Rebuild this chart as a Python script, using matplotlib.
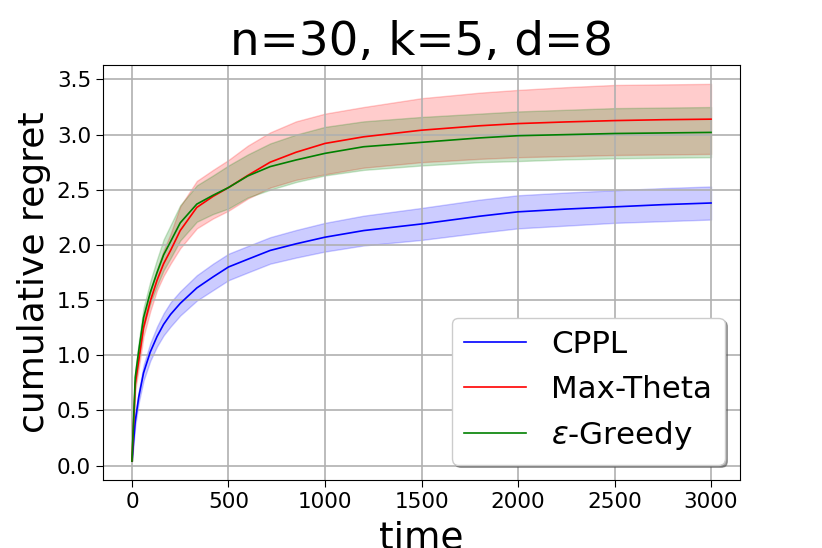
import matplotlib
matplotlib.use("Agg")
import matplotlib.pyplot as plt

steps = [0, 17, 35, 60, 95, 130, 164, 200, 250, 336, 420, 500, 600, 716,
         850, 1000, 1200, 1500, 1800, 2000, 2250, 2500, 2750, 3000]

# CPPL
cppl_mean = [0.04, 0.40, 0.62, 0.84, 1.03, 1.17, 1.28, 1.37, 1.47, 1.61, 1.71, 1.80,
             1.87, 1.95, 2.01, 2.07, 2.13, 2.19, 2.26, 2.30, 2.325, 2.345, 2.365, 2.38]
cppl_upper = [0.04, 0.44, 0.67, 0.91, 1.11, 1.26, 1.38, 1.48, 1.58, 1.725, 1.83, 1.92,
              1.99, 2.07, 2.135, 2.20, 2.265, 2.335, 2.41, 2.45, 2.475, 2.495, 2.515, 2.53]
cppl_lower = [0.04, 0.36, 0.57, 0.77, 0.95, 1.08, 1.18, 1.26, 1.36, 1.495, 1.59, 1.68,
              1.75, 1.83, 1.885, 1.94, 1.995, 2.045, 2.11, 2.15, 2.175, 2.20, 2.215, 2.23]

# Max-Theta
maxt_mean = [0.04, 0.74, 0.95, 1.25, 1.49, 1.68, 1.83, 1.95, 2.13, 2.34, 2.44, 2.52,
             2.63, 2.75, 2.84, 2.92, 2.98, 3.04, 3.08, 3.10, 3.115, 3.127, 3.135, 3.14]
maxt_upper = [0.04, 0.80, 1.02, 1.33, 1.58, 1.78, 1.95, 2.10, 2.35, 2.58, 2.68, 2.77,
              2.90, 3.02, 3.12, 3.19, 3.25, 3.33, 3.38, 3.405, 3.43, 3.45, 3.455, 3.46]
maxt_lower = [0.04, 0.68, 0.88, 1.17, 1.40, 1.59, 1.72, 1.83, 1.97, 2.15, 2.24, 2.31,
              2.42, 2.52, 2.59, 2.64, 2.70, 2.75, 2.78, 2.795, 2.805, 2.815, 2.82, 2.825]

# epsilon-greedy
greedy_mean = [0.04, 0.80, 1.04, 1.34, 1.57, 1.75, 1.91, 2.03, 2.20, 2.37, 2.45, 2.52,
               2.625, 2.71, 2.77, 2.83, 2.89, 2.93, 2.97, 2.99, 3.00, 3.01, 3.015, 3.02]
greedy_upper = [0.04, 0.86, 1.12, 1.43, 1.67, 1.87, 2.05, 2.18, 2.36, 2.54, 2.63, 2.72,
                2.82, 2.92, 3.00, 3.07, 3.12, 3.16, 3.19, 3.21, 3.225, 3.24, 3.245, 3.25]
greedy_lower = [0.04, 0.74, 0.96, 1.25, 1.47, 1.63, 1.77, 1.88, 2.04, 2.21, 2.28, 2.33,
                2.43, 2.50, 2.57, 2.63, 2.68, 2.72, 2.75, 2.76, 2.775, 2.785, 2.79, 2.795]

x_ticks = [0, 500, 1000, 1500, 2000, 2500, 3000]
y_ticks = [0.0, 0.5, 1.0, 1.5, 2.0, 2.5, 3.0, 3.5]

fig = plt.figure(figsize=(8.22, 5.48), dpi=100)
ax = fig.add_axes([103 / 822, 68 / 548, 637 / 822, 415 / 548])

series = [
    ("CPPL", "b", cppl_mean, cppl_lower, cppl_upper),
    ("Max-Theta", "r", maxt_mean, maxt_lower, maxt_upper),
    (r"$\epsilon$-Greedy", "g", greedy_mean, greedy_lower, greedy_upper),
]

for name, col, mean, lo, hi in series:
    ax.plot(steps, mean, color=col, linewidth=1.2, label=name)
    ax.fill_between(steps, lo, hi, facecolor=col, edgecolor=col,
                    linewidth=1.0, alpha=0.2)

ax.set_xticks(x_ticks)
ax.set_yticks(y_ticks)
ax.tick_params(labelsize=15.5, length=5)
ax.grid(True, color="#b0b0b0", linewidth=1.2)

ax.set_title("n=30, k=5, d=8", fontsize=33.7)
# the label sits partly below the figure edge, like in the original
ax.set_xlabel("time", fontsize=27, labelpad=6)
ax.set_ylabel("cumulative regret", fontsize=26)

ax.legend(loc="lower right", fontsize=22.3, shadow=True, fancybox=True)

fig.savefig("out.png", dpi=100)
